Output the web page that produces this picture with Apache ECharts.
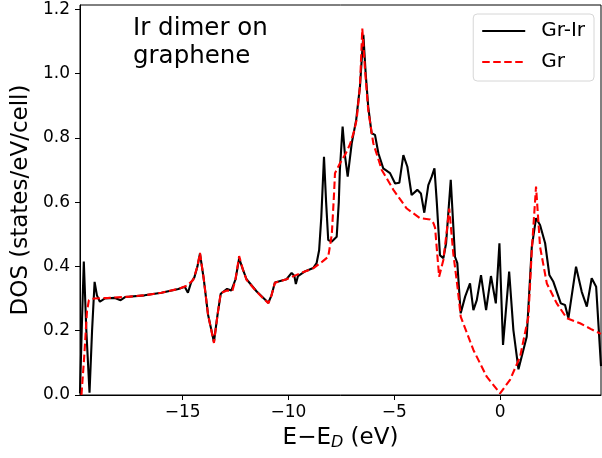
<!DOCTYPE html>
<html>
<head>
<meta charset="utf-8">
<script src="https://cdn.jsdelivr.net/npm/echarts@6/dist/echarts.min.js"></script>
<style>
  html, body { margin: 0; padding: 0; background: #fff; }
  #chart { width: 602px; height: 458px; }
</style>
</head>
<body>
<div id="chart"></div>
<script>
// Gr (pristine graphene)
const grEnergy = [-19.78, -19.65, -19.52, -19.43, -19.2, -18.5, -17.5, -16.8, -16.0, -15.2, -14.8, -14.5, -14.3, -14.18,
  -14.0, -13.8, -13.52, -13.35, -13.2, -12.9, -12.65, -12.5, -12.33, -12.15, -11.98, -11.5, -10.95, -10.8, -10.64,
  -10.09, -9.46, -8.83, -8.4, -8.12, -7.95, -7.85, -7.8, -7.57, -7.3, -7.09, -6.9, -6.78, -6.62, -6.51, -6.38, -6.23,
  -5.99, -5.59, -5.04, -4.41, -3.78, -3.31, -3.15, -3.07, -2.88, -2.68, -2.5, -2.4, -2.21, -2.0, -1.86, -1.26, -0.63,
  0.0, 0.47, 0.95, 1.34, 1.5, 1.7, 1.89, 2.21, 2.68, 3.15, 3.78, 4.3, 4.77]
const grDos = [0.0, 0.12, 0.26, 0.295, 0.30, 0.302, 0.306, 0.31, 0.318, 0.33, 0.34, 0.358, 0.40, 0.442,
  0.36, 0.25, 0.162, 0.25, 0.317, 0.325, 0.324, 0.36, 0.432, 0.39, 0.358, 0.321, 0.285, 0.31, 0.349,
  0.36, 0.378, 0.394, 0.415, 0.43, 0.50, 0.62, 0.69, 0.72, 0.75, 0.78, 0.82, 0.855, 0.96, 1.14, 1.01, 0.886,
  0.783, 0.70, 0.638, 0.58, 0.55, 0.546, 0.535, 0.52, 0.368, 0.42, 0.52, 0.58, 0.44, 0.33, 0.244, 0.14, 0.057,
  0.005, 0.047, 0.12, 0.244, 0.45, 0.648, 0.461, 0.347, 0.285, 0.239, 0.223, 0.205, 0.19]

// Gr-Ir (Ir dimer on graphene)
const irEnergy = [-19.85, -19.77, -19.67, -19.55, -19.4, -19.28, -19.16, -19.05, -18.91, -18.69, -18.2, -17.93, -17.7,
  -16.8, -16.0, -15.2, -14.9, -14.75, -14.6, -14.45, -14.3, -14.18, -14.0, -13.8, -13.52, -13.35, -13.2, -12.9, -12.7,
  -12.5, -12.33, -12.15, -11.98, -11.5, -10.95, -10.8, -10.64, -10.09, -9.85, -9.72, -9.65, -9.55, -9.2, -8.83, -8.67,
  -8.55, -8.45, -8.32, -8.22, -8.12, -7.96, -7.72, -7.62, -7.57, -7.44, -7.32, -7.2, -7.01, -6.8, -6.62, -6.46, -6.35,
  -6.23, -6.07, -5.91, -5.75, -5.52, -5.2, -4.96, -4.76, -4.57, -4.38, -4.18, -3.91, -3.74, -3.58, -3.39, -3.23, -3.1,
  -2.99, -2.84, -2.68, -2.55, -2.33, -2.13, -2.02, -1.86, -1.65, -1.42, -1.26, -1.1, -0.9, -0.66, -0.43, -0.2, -0.03,
  0.14, 0.43, 0.63, 0.87, 1.26, 1.5, 1.7, 1.89, 2.13, 2.33, 2.52, 2.87, 3.07, 3.23, 3.59, 3.86, 4.1, 4.33, 4.54, 4.77]
const irDos = [0.005, 0.2, 0.415, 0.2, 0.007, 0.2, 0.352, 0.31, 0.29, 0.30, 0.302, 0.295, 0.305,
  0.31, 0.318, 0.33, 0.337, 0.318, 0.35, 0.365, 0.40, 0.44, 0.36, 0.25, 0.165, 0.25, 0.315, 0.33, 0.325,
  0.36, 0.425, 0.39, 0.36, 0.322, 0.287, 0.31, 0.35, 0.36, 0.38, 0.37, 0.345, 0.37, 0.385, 0.395, 0.41,
  0.45, 0.55, 0.741, 0.6, 0.482, 0.477, 0.492, 0.6, 0.70, 0.835, 0.74, 0.679, 0.783, 0.855, 0.96, 1.12, 1.0,
  0.897, 0.814, 0.809, 0.752, 0.705, 0.69, 0.658, 0.66, 0.746, 0.71, 0.622, 0.638, 0.627, 0.567, 0.653, 0.679, 0.705,
  0.6, 0.435, 0.425, 0.472, 0.669, 0.43, 0.41, 0.254, 0.306, 0.347, 0.264, 0.295, 0.373, 0.264, 0.37, 0.285, 0.472,
  0.156, 0.384, 0.202, 0.08, 0.181, 0.461, 0.55, 0.529, 0.472, 0.373, 0.352, 0.285, 0.28, 0.239, 0.399, 0.321, 0.275, 0.363, 0.337, 0.09]

const xTicks = [-15, -10, -5, 0]
const yTicks = [0, 0.2, 0.4, 0.6, 0.8, 1.0, 1.2]

const FONT = 'DejaVu Sans'
const chart = echarts.init(document.getElementById('chart'))
chart.setOption({
  animation: false,
  textStyle: { fontFamily: FONT },
  title: {
    text: 'Ir dimer on\ngraphene',
    left: 133,
    top: 15,
    padding: 0,
    textStyle: { fontFamily: FONT, fontSize: 24.5, fontWeight: 'normal', color: '#000', lineHeight: 28 }
  },
  legend: {
    orient: 'vertical',
    right: 8,
    top: 14,
    padding: [6, 9, 8, 8],
    itemWidth: 43,
    itemHeight: 14,
    itemGap: 9,
    backgroundColor: '#fff',
    borderColor: '#d6d6d6',
    borderWidth: 1,
    borderRadius: 4,
    itemStyle: { opacity: 0 },
    textStyle: { fontFamily: FONT, fontSize: 20, color: '#000', lineHeight: 22, padding: [0, 0, 0, 11] },
    data: ['Gr-Ir', 'Gr']
  },
  grid: {
    left: 80, right: 1, top: 5, bottom: 63,
    show: true, borderColor: '#000', borderWidth: 1
  },
  xAxis: {
    type: 'value',
    min: -19.85,
    max: 4.77,
    name: 'E−E{sub|D} (eV)',
    nameLocation: 'middle',
    nameGap: 31,
    nameTextStyle: {
      fontFamily: FONT, fontSize: 23, color: '#000',
      rich: { sub: { fontFamily: FONT, fontSize: 16, fontStyle: 'italic', verticalAlign: 'bottom', padding: [9, 0, 0, 0] } }
    },
    splitLine: { show: false },
    axisLine: { onZero: false, lineStyle: { color: '#000', width: 1 } },
    axisTick: { customValues: xTicks, length: 5, lineStyle: { color: '#000' } },
    axisLabel: {
      customValues: xTicks, margin: 9, fontSize: 17, color: '#000', fontFamily: FONT,
      formatter: v => (v < 0 ? '−' + Math.abs(v) : String(v))
    }
  },
  yAxis: {
    type: 'value',
    min: 0,
    max: 1.213,
    name: 'DOS (states/eV/cell)',
    nameLocation: 'middle',
    nameGap: 47,
    nameTextStyle: { fontFamily: FONT, fontSize: 23, color: '#000' },
    splitLine: { show: false },
    axisLine: { show: true, onZero: false, lineStyle: { color: '#000', width: 1 } },
    axisTick: { show: true, customValues: yTicks, length: 5, lineStyle: { color: '#000' } },
    axisLabel: {
      customValues: yTicks, margin: 10, fontSize: 17, color: '#000', fontFamily: FONT,
      formatter: v => v.toFixed(1)
    }
  },
  series: [
    {
      name: 'Gr-Ir',
      type: 'line',
      symbol: 'none',
      data: irEnergy.map((e, i) => [e, irDos[i]]),
      lineStyle: { color: '#000', width: 2.1 },
      itemStyle: { color: '#000' },
      z: 2
    },
    {
      name: 'Gr',
      type: 'line',
      symbol: 'none',
      data: grEnergy.map((e, i) => [e, grDos[i]]),
      lineStyle: { color: '#ff0000', width: 2.1, type: [7.5, 3.5] },
      itemStyle: { color: '#ff0000' },
      z: 3
    }
  ]
})
</script>
</body>
</html>
